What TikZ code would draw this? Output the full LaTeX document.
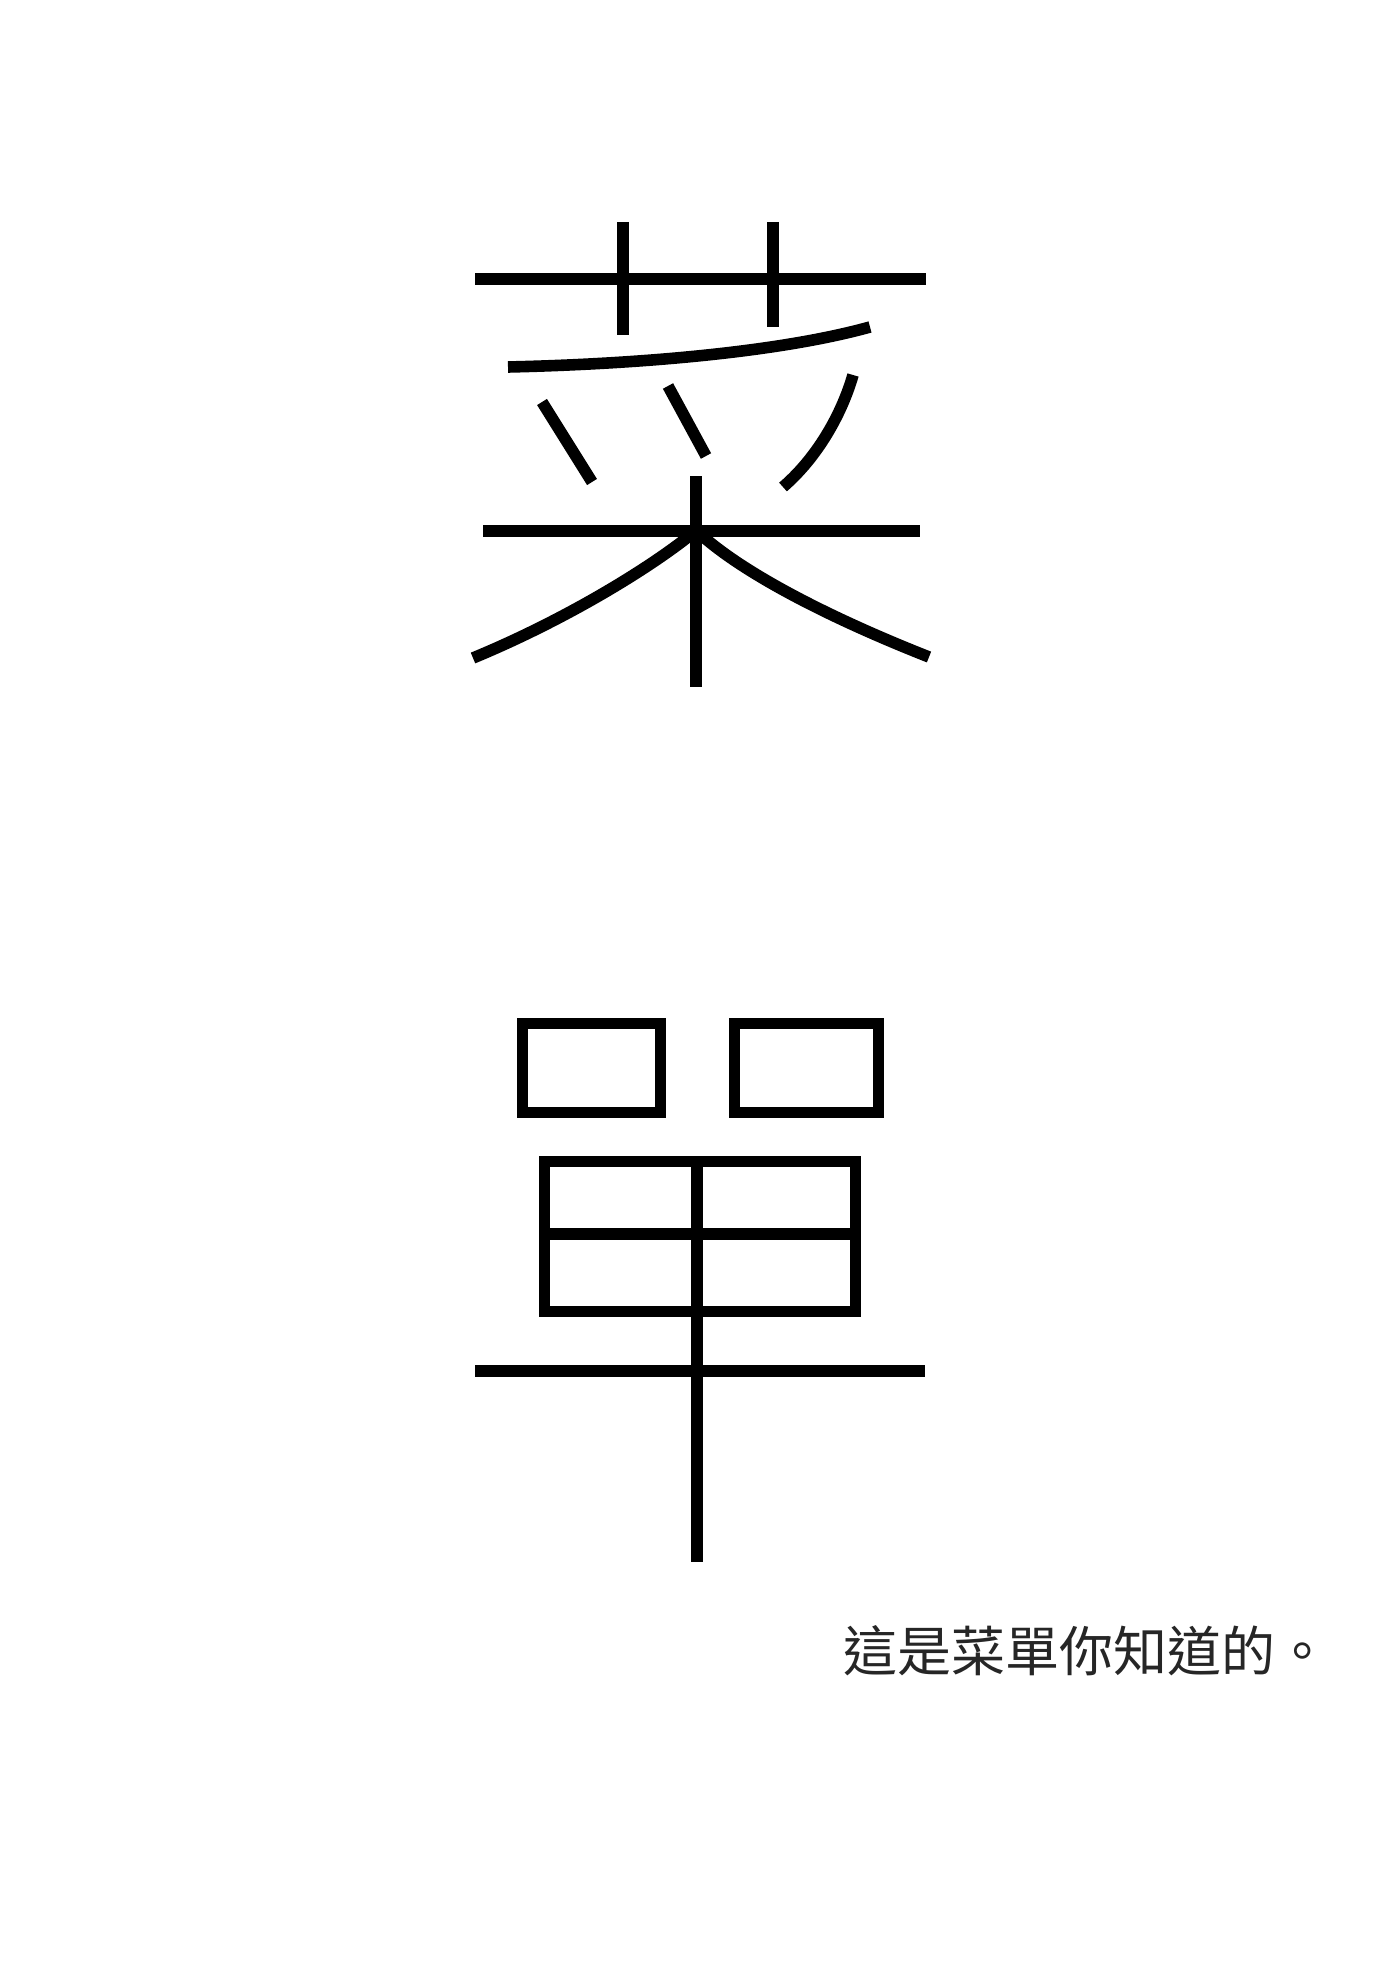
\documentclass[tikz,border=0pt]{standalone}
\usepackage{fontspec}
\newfontfamily\cjk{Noto Sans CJK TC}

\begin{document}
\begin{tikzpicture}[x=0.5pt, y=-0.5pt, stroke/.style={line width=5.8pt, line cap=butt},
                    box/.style={line width=5.6pt, line join=miter}]
  \path[fill=white, use as bounding box] (0,0) rectangle (1400,1979);
  % cai
  \draw[stroke] (475,279) -- (926,279);
  \draw[stroke] (623,222) -- (623,335);
  \draw[stroke] (773,222) -- (773,327);
  \draw[stroke] (508,367) .. controls (640,364) and (780,352) .. (870,327);
  \draw[stroke] (542,402) -- (592,482);
  \draw[stroke] (668,386) -- (706,456);
  \draw[stroke] (853,375) .. controls (843,410) and (820,455) .. (783,487);
  \draw[stroke] (483,531) -- (920,531);
  \draw[stroke] (696,476) -- (696,687);
  \draw[stroke] (693,533) .. controls (650,568) and (565,620) .. (473,658);
  \draw[stroke] (699,533) .. controls (745,575) and (835,620) .. (929,657);
  % dan
  \draw[box] (522.5,1023.5) rectangle (660.5,1112.5);
  \draw[box] (734.5,1023.5) rectangle (878.5,1112.5);
  \draw[box] (544.5,1161.5) rectangle (855.5,1311.5);
  \draw[box] (544.5,1234) -- (855.5,1234);
  \draw[stroke] (697,1161.5) -- (697,1562);
  \draw[stroke] (475,1371) -- (925,1371);
  % line
  \node (tag) [anchor=west, inner sep=0pt, text=black!85]
    at (843,1651) {\cjk\fontsize{27pt}{32pt}\selectfont 這是菜單你知道的。};
\end{tikzpicture}
\end{document}
